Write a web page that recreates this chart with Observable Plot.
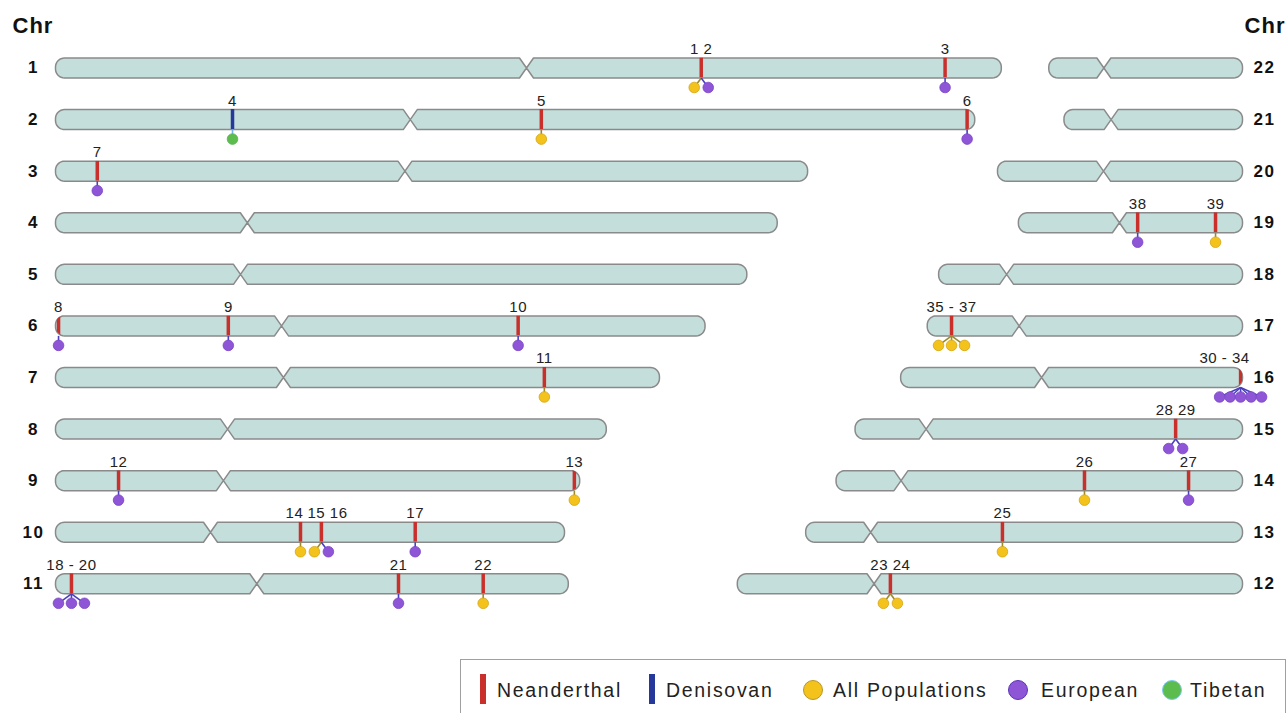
<!DOCTYPE html>
<html><head><meta charset="utf-8">
<script src="https://cdn.jsdelivr.net/npm/d3@7"></script>
<script src="https://cdn.jsdelivr.net/npm/@observablehq/plot@0.6"></script>
<style>
body{margin:0;background:#fff;font-family:"Liberation Sans",Arial,sans-serif;overflow:hidden;}
#wrap{position:relative;width:1288px;height:713px;}
#legend{position:absolute;left:460px;top:659px;width:826px;height:70px;border:1px solid #a0a0a0;box-sizing:border-box;background:#fff;}
#legend .it{position:absolute;}
#legend .bar{width:6px;height:30px;top:14px;}
#legend .dot{width:20px;height:20px;top:20px;border-radius:50%;box-sizing:border-box;border:1.5px solid;}
#legend .txt{top:17px;height:26px;line-height:26px;font-size:19.5px;letter-spacing:1.7px;color:#222;white-space:nowrap;}
</style></head>
<body><div id="wrap"><div id="chart"></div><div id="legend"></div></div>
<script>
// ---- data ----
const chromosomes = ["1","2","3","4","5","6","7","8","9","10","11","12","13","14","15","16","17","18","19","20","21","22"];
const lengthsMb   = [249, 242, 198, 190, 182, 171, 159, 145, 138, 134, 135, 133, 115, 107, 102, 90, 83, 80, 59, 64.5, 47, 51];
const centromereMb = [124, 93.4, 92, 50.5, 48.7, 59.5, 60, 45.3, 44.2, 40.8, 53, 36, 17.1, 17.1, 18.7, 37.1, 24.2, 17.9, 26.6, 27.9, 12.4, 14.5];

const markerIds = ["1","2","3","4","5","6","7","8","9","10","11","12","13","14","15","16","17","18","19","20","21","22","23","24","25","26","27","28","29","30","31","32","33","34","35","36","37","38","39"];
const markerChr = ["1","1","1","2","2","2","3","6","6","6","7","9","9","10","10","10","10","11","11","11","11","11","12","12","13","14","14","15","15","16","16","16","16","16","17","17","17","19","19"];
const markerPosMb = [170,170,234.2, 46.6,127.9,240, 11, 0.8,45.5,121.8, 128.7, 16.6,136.6, 64.5,70,70,94.7, 4.2,4.2,4.2,90.3,112.6, 40.3,40.3, 51.8, 65.4,92.8, 84.4,84.4, 89.5,89.5,89.5,89.5,89.5, 6.4,6.4,6.4, 31.4,51.9];
const markerArchaic = markerIds.map(id => id === "4" ? "Denisovan" : "Neanderthal");
const markerPop = ["All Populations","European","European","Tibetan","All Populations","European","European","European","European","European",
  "All Populations","European","All Populations","All Populations","All Populations","European","European","European","European","European",
  "European","All Populations","All Populations","All Populations","All Populations","All Populations","European","European","European",
  "European","European","European","European","European","All Populations","All Populations","All Populations","European","All Populations"];

// ---- styles ----
const archColor = {Neanderthal: "#c9302c", Denisovan: "#26389a"};
const popColor  = {"All Populations": "#f3c31c", European: "#8e55d6", Tibetan: "#5cbc4e"};
const popStroke = {"All Populations": "#d4a414", European: "#7a45c8", Tibetan: "#55b54f"};
const stemColor = {"All Populations": "#9c8a2a", European: "#4a3fc0", Tibetan: "#6fb7e6"};

// ---- layout ----
const K = 3.798;        // px per Mb
const ROW_PX = 51.58;   // px per row
const RIGHT_END = 312.5;
const HH = 10, R = 9, W = 7;
const rowOf = i => i < 11 ? i + 1 : 23 - (i + 1);
const startOf = i => i < 11 ? 0 : RIGHT_END - lengthsMb[i];

function shapePoints(i) {
  const chr = chromosomes[i], L = lengthsMb[i], c = centromereMb[i];
  const s = startOf(i), row = rowOf(i);
  const P = (px, py) => ({chr, x: s + px / K, y: row + py / ROW_PX});
  const Lp = L * K, cp = c * K, pts = [];
  const arc = (cx, cy, a0, a1) => { for (let t = 0; t <= 8; t++) { const a = a0 + (a1 - a0) * t / 8; pts.push(P(cx + R * Math.cos(a), cy + R * Math.sin(a))); } };
  arc(R, -HH + R, Math.PI, 1.5 * Math.PI);
  pts.push(P(cp - W, -HH), P(cp, 0), P(cp + W, -HH));
  arc(Lp - R, -HH + R, 1.5 * Math.PI, 2 * Math.PI);
  arc(Lp - R, HH - R, 0, 0.5 * Math.PI);
  pts.push(P(cp + W, HH), P(cp, 0), P(cp - W, HH));
  arc(R, HH - R, 0.5 * Math.PI, Math.PI);
  pts.push(pts[0]);
  return pts;
}
const chromPts = chromosomes.flatMap((c, i) => shapePoints(i));

const markers = markerIds.map((id, i) => ({id, chr: markerChr[i], pos: markerPosMb[i], archaic: markerArchaic[i], pop: markerPop[i]}));
const groups = d3.groups(markers, d => d.chr + "|" + d.pos).map(([key, ms]) => {
  const i = chromosomes.indexOf(ms[0].chr);
  const n = ms.length;
  const label = n === 1 ? ms[0].id : n === 2 ? ms.map(d => d.id).join(" ") : ms[0].id + " - " + ms[n - 1].id;
  return {chr: ms[0].chr, x: startOf(i) + ms[0].pos, row: rowOf(i), archaic: ms[0].archaic, label,
          nearEnd: ms[0].pos > lengthsMb[i] - 3 && label.length > 3, ms};
});
// nudge neighbouring labels apart so they do not overlap
const labelW = s => s.length * 8.3;
d3.groups(groups, g => g.chr).forEach(([c, gs]) => {
  gs.sort((a, b) => a.x - b.x);
  gs.forEach(g => g.lx = g.x);
  for (let j = 1; j < gs.length; j++) {
    const a = gs[j - 1], b = gs[j];
    const need = labelW(a.label) / 2 + labelW(b.label) / 2 + 4;
    const have = (b.lx - a.lx) * K;
    if (have < need) { const s = (need - have) / 2 / K; a.lx -= s; b.lx += s; }
  }
});
const dots = groups.flatMap(g => {
  const n = g.ms.length, sp = n <= 2 ? 14 : n === 3 ? 13 : 10.5;
  return g.ms.map((m, j) => ({pop: m.pop, gx: g.x, gy: g.row + HH / ROW_PX,
    x: g.x + (j - (n - 1) / 2) * sp / K, y: g.row + (HH + 9.5) / ROW_PX}));
});

const chart = Plot.plot({
  width: 1288, height: 658, margin: 0,
  x: {domain: [0, RIGHT_END], range: [55, 1242], axis: null},
  y: {domain: [1, 11], range: [67.5, 583.3], axis: null},
  color: {type: "identity"},
  style: {fontFamily: '"Liberation Sans", Arial, sans-serif', background: "#fff", overflow: "visible"},
  marks: [
    Plot.line(chromPts, {x: "x", y: "y", z: "chr", fill: "#c3dedb", stroke: "#8a8a8a", strokeWidth: 1.5, curve: "linear"}),
    Plot.ruleX(groups, {x: "x", y1: d => d.row - HH / ROW_PX, y2: d => d.row + HH / ROW_PX, stroke: d => archColor[d.archaic], strokeWidth: 3.5, strokeLinecap: "butt"}),
    Plot.link(dots, {x1: "gx", y1: "gy", x2: "x", y2: "y", stroke: d => stemColor[d.pop], strokeWidth: 1.6}),
    Plot.dot(dots, {x: "x", y: "y", r: 5.3, fill: d => popColor[d.pop], stroke: d => popStroke[d.pop], strokeWidth: 0.8}),
    Plot.text(groups.filter(g => !g.nearEnd), {x: "lx", y: "row", text: "label", dy: -HH - 4, lineAnchor: "bottom", fontSize: 15, fill: "#222"}),
    Plot.text(groups.filter(g => g.nearEnd), {x: "lx", y: "row", text: "label", dx: 9, dy: -HH - 4, lineAnchor: "bottom", textAnchor: "end", fontSize: 15, fill: "#222"}),
    Plot.text(chromosomes.slice(0, 11), {y: (d, i) => rowOf(i), text: d => d, frameAnchor: "left", dx: 33, textAnchor: "middle", fontSize: 17, fontWeight: "bold", fill: "#111"}),
    Plot.text(chromosomes.slice(11), {y: (d, i) => rowOf(i + 11), text: d => d, frameAnchor: "right", dx: -35, textAnchor: "start", fontSize: 17, fontWeight: "bold", fill: "#111"}),
    Plot.text(["Chr"], {text: d => d, frameAnchor: "top-left", dx: 12, dy: 25, lineAnchor: "middle", textAnchor: "start", fontSize: 22, fontWeight: "bold", fill: "#111"}),
    Plot.text(["Chr"], {text: d => d, frameAnchor: "top-right", dx: -3, dy: 25, lineAnchor: "middle", textAnchor: "end", fontSize: 22, fontWeight: "bold", fill: "#111"})
  ]
});
document.getElementById("chart").appendChild(chart);

// clip marker bars to chromosome outlines; letter spacing for text groups
(function () {
  const ns = "http://www.w3.org/2000/svg";
  const svg = chart.tagName.toLowerCase() === "svg" ? chart : chart.querySelector("svg");
  const defs = document.createElementNS(ns, "defs");
  const cp = document.createElementNS(ns, "clipPath");
  cp.setAttribute("id", "chrclip");
  svg.querySelectorAll('g[aria-label="line"] path').forEach(p => { const c = document.createElementNS(ns, "path"); c.setAttribute("d", p.getAttribute("d")); cp.appendChild(c); });
  defs.appendChild(cp); svg.insertBefore(defs, svg.firstChild);
  const rg = svg.querySelector('g[aria-label="rule"]');
  if (rg) rg.querySelectorAll("line").forEach(l => l.setAttribute("clip-path", "url(#chrclip)"));
  const tg = svg.querySelectorAll('g[aria-label="text"]');
  const ls = ["0.5px", "0.5px", "1.5px", "1.5px", "1px", "1px"];
  tg.forEach((g, i) => g.style.letterSpacing = ls[i] || "0px");
})();

// legend
const legend = document.getElementById("legend");
const legendItems = [
  {kind: "bar", key: "Neanderthal", left: 19, tleft: 36},
  {kind: "bar", key: "Denisovan", left: 188, tleft: 205},
  {kind: "dot", key: "All Populations", left: 342, tleft: 372},
  {kind: "dot", key: "European", left: 547, tleft: 580},
  {kind: "dot", key: "Tibetan", left: 701, tleft: 729}
];
const legendBorder = {"All Populations": "#b8962a", European: "#5b35b5", Tibetan: "#7cc8ec"};
legendItems.forEach(it => {
  const m = document.createElement("div");
  m.className = "it " + it.kind;
  m.style.left = it.left + "px";
  if (it.kind === "bar") m.style.background = archColor[it.key];
  else { m.style.background = popColor[it.key]; m.style.borderColor = legendBorder[it.key]; }
  legend.appendChild(m);
  const t = document.createElement("div");
  t.className = "it txt"; t.style.left = it.tleft + "px"; t.textContent = it.key;
  legend.appendChild(t);
});
</script>
</body></html>
